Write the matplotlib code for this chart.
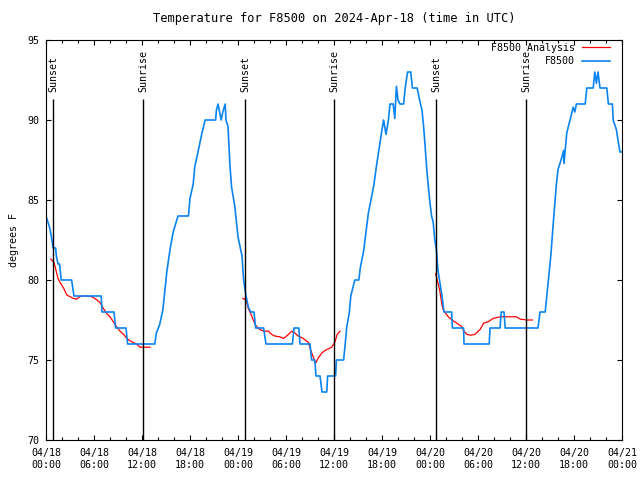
import numpy as np
import matplotlib
matplotlib.use("Agg")
import matplotlib.pyplot as plt
from matplotlib.ticker import MultipleLocator

# hours since 04/18 00:00 UTC and temperature (deg F)
obs_hours = [0.0, 0.5, 0.9, 1.2, 1.3, 1.5, 1.7, 1.9, 3.2, 3.5, 6.9, 7.0, 8.5, 8.7,
             10.0, 10.2, 13.6, 13.8, 14.2, 14.6, 15.1, 15.5, 15.9, 16.5, 17.8, 18.0,
             18.4, 18.6, 19.0, 19.5, 19.9, 21.2, 21.3, 21.5, 21.7, 21.9, 22.1, 22.4,
             22.5, 22.75, 23.0, 23.2, 23.6, 24.0, 24.5, 24.7, 25.0, 25.3, 25.6, 26.0,
             26.2, 27.2, 27.5, 30.8, 31.0, 31.6, 31.75, 33.0, 33.2, 33.6, 33.75, 34.25,
             34.5, 35.1, 35.2, 36.2, 36.3, 37.2, 37.4, 37.6, 37.9, 38.1, 38.3, 38.6,
             39.1, 39.3, 39.7, 40.0, 40.3, 40.7, 41.0, 41.3, 41.6, 42.0, 42.2, 42.5,
             42.8, 43.0, 43.4, 43.6, 43.8, 44.0, 44.25, 44.7, 44.9, 45.2, 45.6, 45.8,
             46.4, 46.7, 47.0, 47.2, 47.4, 47.6, 47.8, 48.0, 48.2, 48.4, 48.6, 48.8,
             49.0, 49.25, 49.5, 49.75, 50.7, 50.8, 52.2, 52.25, 55.4, 55.5, 56.75, 56.9,
             57.25, 57.4, 61.5, 61.75, 62.4, 62.6, 62.8, 63.1, 63.4, 63.8, 64.0, 64.5,
             64.7, 64.75, 65.1, 65.5, 65.9, 66.1, 66.3, 67.4, 67.6, 68.4, 68.6, 68.8,
             69.0, 69.25, 70.1, 70.3, 70.8, 70.9, 71.3, 71.5, 71.75, 72.0]
obs_temp = [84.0, 83.2, 82.0, 82.0, 81.5, 81.0, 81.0, 80.0, 80.0, 79.0, 79.0, 78.0, 78.0, 77.0,
            77.0, 76.0, 76.0, 76.7, 77.2, 78.1, 80.5, 81.9, 83.0, 84.0, 84.0, 85.1,
            86.0, 87.1, 88.0, 89.2, 90.0, 90.0, 90.6, 91.0, 90.5, 90.0, 90.5, 91.0,
            90.0, 89.6, 87.1, 85.8, 84.6, 82.7, 81.5, 80.0, 79.0, 78.3, 78.0, 78.0,
            77.0, 77.0, 76.0, 76.0, 77.0, 77.0, 76.0, 76.0, 75.0, 75.0, 74.0, 74.0,
            73.0, 73.0, 74.0, 74.0, 75.0, 75.0, 76.0, 77.1, 77.9, 79.0, 79.4, 80.0,
            80.0, 80.8, 81.8, 83.0, 84.2, 85.2, 86.0, 87.1, 88.1, 89.4, 90.0, 89.1,
            90.0, 91.0, 91.0, 90.1, 92.1, 91.25, 91.0, 91.0, 92.0, 93.0, 93.0, 92.0,
            92.0, 91.25, 90.6, 89.6, 88.3, 86.9, 85.8, 84.8, 84.0, 83.6, 82.5, 81.9,
            80.6, 79.8, 79.0, 78.0, 78.0, 77.0, 77.0, 76.0, 76.0, 77.0, 77.0, 78.0,
            78.0, 77.0, 77.0, 78.0, 78.0, 79.0, 80.0, 81.5, 83.5, 86.0, 86.9, 87.7,
            88.1, 87.3, 89.2, 90.0, 90.8, 90.5, 91.0, 91.0, 92.0, 92.0, 93.0, 92.3,
            93.0, 92.0, 92.0, 91.0, 91.0, 90.0, 89.4, 88.75, 88.0, 88.0]

# analysis curve, one segment per night
an1_hours = [0.6, 1.0, 1.25, 1.5, 1.8, 2.2, 2.6, 3.0, 3.4, 3.8, 4.25, 4.7, 5.1, 5.7,
             6.1, 6.75, 7.2, 7.6, 8.0, 8.4, 8.8, 9.25, 9.7, 10.1, 10.5, 10.9, 11.3,
             11.75, 12.2, 13.0]
an1_temp = [81.3, 81.1, 80.6, 80.1, 79.8, 79.5, 79.06, 78.96, 78.85, 78.8, 78.96, 79.0,
            79.0, 78.96, 78.85, 78.6, 78.2, 77.9, 77.7, 77.4, 77.1, 76.8, 76.6, 76.35,
            76.2, 76.1, 76.0, 75.8, 75.8, 75.8]
an2_hours = [24.6, 25.0, 25.3, 25.6, 25.9, 26.3, 26.75, 27.2, 27.8, 28.2, 28.6, 29.2,
             29.7, 30.2, 30.7, 31.1, 31.5, 32.0, 32.4, 32.8, 33.1, 33.4, 33.7, 34.0,
             34.5, 34.9, 35.3, 35.7, 36.1, 36.4, 36.75]
an2_temp = [78.85, 78.75, 78.2, 77.9, 77.5, 77.1, 76.9, 76.8, 76.8, 76.6, 76.5, 76.45,
            76.35, 76.55, 76.8, 76.7, 76.5, 76.4, 76.25, 76.1, 75.6, 75.2, 74.8, 75.1,
            75.45, 75.6, 75.7, 75.8, 76.1, 76.6, 76.8]
an3_hours = [48.7, 48.9, 49.2, 49.4, 49.6, 49.9, 50.2, 50.5, 50.9, 51.5, 51.95, 52.25,
             52.6, 53.1, 53.6, 54.25, 54.7, 55.3, 55.9, 56.75, 57.6, 58.8, 59.25, 60.1,
             60.8]
an3_temp = [80.4, 80.0, 79.4, 78.75, 78.2, 77.96, 77.75, 77.6, 77.45, 77.25, 77.1, 76.8,
            76.6, 76.55, 76.6, 76.9, 77.3, 77.4, 77.6, 77.7, 77.7, 77.7, 77.56, 77.5,
            77.5]

sun_hours = [0.92, 12.15, 24.9, 36.05, 48.8, 60.05]
sun_labels = ["Sunset", "Sunrise", "Sunset", "Sunrise", "Sunset", "Sunrise"]

tick_hours = list(range(0, 73, 6))
tick_labels = ["04/18\n00:00", "04/18\n06:00", "04/18\n12:00", "04/18\n18:00",
               "04/19\n00:00", "04/19\n06:00", "04/19\n12:00", "04/19\n18:00",
               "04/20\n00:00", "04/20\n06:00", "04/20\n12:00", "04/20\n18:00",
               "04/21\n00:00"]

plt.rcParams['font.family'] = ['DejaVu Sans Mono']
plt.rcParams['font.size'] = 7.2

fig = plt.figure(figsize=(6.4, 4.8), dpi=100)
ax = fig.add_axes([46 / 640, 40 / 480, 576 / 640, 400 / 480])

red = "#ff0000"
blue = "#0a84f0"

ax.plot(an1_hours, an1_temp, color=red, lw=0.9, label="F8500 Analysis")
ax.plot(an2_hours, an2_temp, color=red, lw=0.9)
ax.plot(an3_hours, an3_temp, color=red, lw=0.9)
ax.plot(obs_hours, obs_temp, color=blue, lw=1.2, label="F8500")

# sunrise / sunset markers
ax.vlines(sun_hours, 70, 91.3, color="black", lw=1.0)
for h, s in zip(sun_hours, sun_labels):
    ax.text(h, 91.75, s, rotation=90, ha="center", va="bottom")

ax.set_xlim(0, 72)
ax.set_ylim(70, 95)
ax.set_xticks(tick_hours)
ax.set_xticklabels(tick_labels)
ax.xaxis.set_minor_locator(MultipleLocator(2))
ax.set_yticks([70, 75, 80, 85, 90, 95])
ax.tick_params(axis="both", which="both", direction="in", top=True, right=True,
               width=0.8, colors="black")
ax.tick_params(axis="x", which="major", length=3.5, pad=6)
ax.tick_params(axis="x", which="minor", length=2)
ax.tick_params(axis="y", which="major", length=3.5, pad=5)
for sp in ax.spines.values():
    sp.set_linewidth(0.8)

ax.set_ylabel("degrees F", labelpad=6)
ax.set_title("Temperature for F8500 on 2024-Apr-18 (time in UTC)", pad=13)

ax.legend(loc="upper right", bbox_to_anchor=((610 - 46) / 576, (440 - 43) / 400),
          frameon=False, markerfirst=False, handlelength=2.8, handletextpad=0.7,
          labelspacing=0.35, borderaxespad=0, borderpad=0)

fig.savefig("out.png", dpi=100)
